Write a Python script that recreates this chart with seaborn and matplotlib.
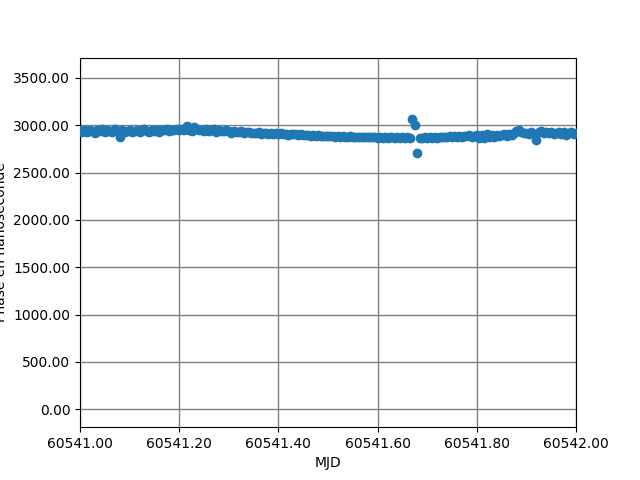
import numpy as np
import pandas as pd
import matplotlib
matplotlib.use('Agg')
import matplotlib.pyplot as plt
import seaborn as sns
from matplotlib.ticker import FormatStrFormatter

# MJD day start and sample offsets (days)
mjd_start = 60541.0
offsets = [
    0.000, 0.005, 0.010, 0.015, 0.020, 0.025, 0.030, 0.035, 0.040, 0.045,
    0.050, 0.055, 0.060, 0.065, 0.070, 0.075, 0.080, 0.085, 0.090, 0.095,
    0.100, 0.105, 0.110, 0.115, 0.120, 0.125, 0.130, 0.135, 0.140, 0.145,
    0.150, 0.155, 0.160, 0.165, 0.170, 0.175, 0.180, 0.185, 0.190, 0.195,
    0.200, 0.205, 0.210, 0.215, 0.220, 0.225, 0.230, 0.235, 0.240, 0.245,
    0.250, 0.255, 0.260, 0.265, 0.270, 0.275, 0.280, 0.285, 0.290, 0.295,
    0.300, 0.305, 0.310, 0.315, 0.320, 0.325, 0.330, 0.335, 0.340, 0.345,
    0.350, 0.355, 0.360, 0.365, 0.370, 0.375, 0.380, 0.385, 0.390, 0.395,
    0.400, 0.405, 0.410, 0.415, 0.420, 0.425, 0.430, 0.435, 0.440, 0.445,
    0.450, 0.455, 0.460, 0.465, 0.470, 0.475, 0.480, 0.485, 0.490, 0.495,
    0.500, 0.505, 0.510, 0.515, 0.520, 0.525, 0.530, 0.535, 0.540, 0.545,
    0.550, 0.555, 0.560, 0.565, 0.570, 0.575, 0.580, 0.585, 0.590, 0.595,
    0.600, 0.605, 0.610, 0.615, 0.620, 0.625, 0.630, 0.635, 0.640, 0.645,
    0.650, 0.655, 0.660, 0.665, 0.670, 0.675, 0.680, 0.685, 0.690, 0.695,
    0.700, 0.705, 0.710, 0.715, 0.720, 0.725, 0.730, 0.735, 0.740, 0.745,
    0.750, 0.755, 0.760, 0.765, 0.770, 0.775, 0.780, 0.785, 0.790, 0.795,
    0.800, 0.805, 0.810, 0.815, 0.820, 0.825, 0.830, 0.835, 0.840, 0.845,
    0.850, 0.855, 0.860, 0.865, 0.870, 0.875, 0.880, 0.885, 0.890, 0.895,
    0.900, 0.905, 0.910, 0.915, 0.920, 0.925, 0.930, 0.935, 0.940, 0.945,
    0.950, 0.955, 0.960, 0.965, 0.970, 0.975, 0.980, 0.985, 0.990, 0.995,
    1.000,
]

# Phase values in nanoseconds
phase_ns = [
    2945, 2925, 2950, 2930, 2955, 2935, 2920, 2950, 2940, 2960,
    2930, 2955, 2940, 2925, 2960, 2935, 2878, 2945, 2930, 2935,
    2950, 2925, 2940, 2955, 2930, 2945, 2960, 2935, 2925, 2950,
    2940, 2955, 2930, 2950, 2945, 2960, 2935, 2955, 2945, 2960,
    2950, 2965, 2945, 2990, 2955, 2940, 2985, 2960, 2945, 2955,
    2940, 2960, 2935, 2950, 2965, 2930, 2945, 2940, 2935, 2950,
    2935, 2920, 2940, 2930, 2925, 2935, 2920, 2930, 2925, 2918,
    2922, 2915, 2925, 2910, 2918, 2920, 2908, 2915, 2912, 2918,
    2910, 2915, 2905, 2912, 2900, 2908, 2903, 2910, 2898, 2905,
    2900, 2895, 2902, 2890, 2896, 2888, 2893, 2886, 2890, 2885,
    2888, 2882, 2886, 2880, 2884, 2878, 2883, 2880, 2876, 2882,
    2878, 2875, 2880, 2873, 2877, 2874, 2879, 2872, 2876, 2873,
    2870, 2876, 2868, 2874, 2865, 2872, 2878, 2866, 2872, 2869,
    2872, 2866, 2874, 2868, 3065, 3000, 2705, 2870, 2864, 2872,
    2866, 2874, 2868, 2876, 2870, 2878, 2872, 2880, 2874, 2882,
    2876, 2886, 2880, 2890, 2878, 2888, 2882, 2894, 2880, 2890,
    2900, 2862, 2895, 2870, 2905, 2880, 2898, 2875, 2892, 2885,
    2895, 2905, 2885, 2910, 2900, 2920, 2935, 2945, 2925, 2915,
    2920, 2905, 2930, 2910, 2845, 2925, 2935, 2915, 2930, 2920,
    2925, 2905, 2920, 2930, 2910, 2925, 2900, 2915, 2930, 2910,
    2915,
]

df = pd.DataFrame({'MJD': [mjd_start + o for o in offsets], 'phase': phase_ns})

fig, ax = plt.subplots(figsize=(6.4, 4.8), dpi=100)

sns.scatterplot(data=df, x='MJD', y='phase', color='#1f77b4', s=36,
                edgecolor='#1f77b4', linewidth=1, zorder=3, ax=ax)

ax.set_xlim(60541.0, 60542.0)
ax.set_ylim(-190, 3715)
ax.set_xticks([60541.0, 60541.2, 60541.4, 60541.6, 60541.8, 60542.0])
ax.set_yticks([0, 500, 1000, 1500, 2000, 2500, 3000, 3500])
ax.xaxis.set_major_formatter(FormatStrFormatter('%.2f'))
ax.yaxis.set_major_formatter(FormatStrFormatter('%.2f'))
ax.grid(True, color='gray', linewidth=1)
ax.set_xlabel('MJD')
ax.set_ylabel('Phase en nanoseconde')

plt.savefig('out.png', dpi=100)
